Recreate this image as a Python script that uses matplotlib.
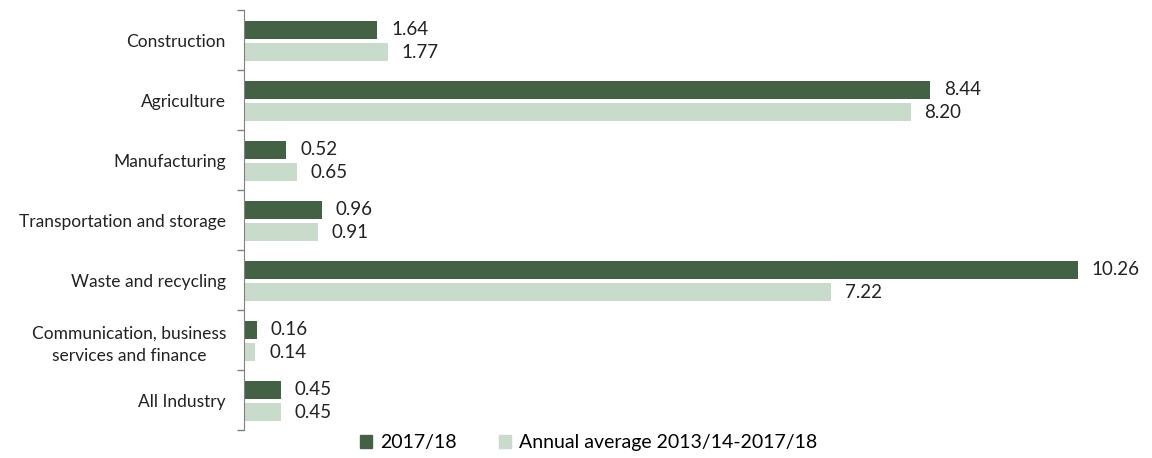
import numpy as np
import matplotlib.pyplot as plt
from matplotlib.patches import Patch

plt.rcParams['font.family'] = ['Lato', 'DejaVu Sans']

categories = ['Construction', 'Agriculture', 'Manufacturing', 'Transportation and storage',
              'Waste and recycling', 'Communication, business\nservices and finance', 'All Industry']
vals_2017 = [1.64, 8.44, 0.52, 0.96, 10.26, 0.16, 0.45]
vals_avg = [1.77, 8.20, 0.65, 0.91, 7.22, 0.14, 0.45]
series_names = ['2017/18', 'Annual average 2013/14-2017/18']

dark = '#436244'
light = '#c9dccc'

fig = plt.figure(figsize=(11.52, 4.58), dpi=100)
ax = fig.add_axes([0.2118, 0.061, 0.7882, 0.917])

y = np.arange(len(categories))
h = 0.3
ax.barh(y - 0.17, vals_2017, height=h, color=dark)
ax.barh(y + 0.20, vals_avg, height=h, color=light)

for yi, v in zip(y - 0.17, vals_2017):
    ax.annotate(f'{v:.2f}', (v, yi), xytext=(10, 0), textcoords='offset points',
                va='center', ha='left', fontsize=13.5, color='#222222')
for yi, v in zip(y + 0.20, vals_avg):
    ax.annotate(f'{v:.2f}', (v, yi), xytext=(10, 0), textcoords='offset points',
                va='center', ha='left', fontsize=13.5, color='#222222')

ax.set_xlim(0, 11.17)
ax.set_ylim(len(categories) - 0.5, -0.5)
ax.set_yticks(y)
ax.set_yticklabels(categories, fontsize=12.5, color='#222222', multialignment='center',
                   linespacing=1.5)
ax.set_yticks(np.arange(-0.5, len(categories)), minor=True)
ax.tick_params(axis='y', which='major', length=0, pad=13)
ax.tick_params(axis='y', which='minor', length=5, color='#808080', width=1)
ax.set_xticks([])

for s in ['top', 'right', 'bottom']:
    ax.spines[s].set_visible(False)
ax.spines['left'].set_color('#808080')

handles = [Patch(color=dark), Patch(color=light)]
fig.legend(handles, series_names, loc='center', bbox_to_anchor=(0.511, 0.033), ncol=2,
           frameon=False, fontsize=14, handlelength=0.6, handleheight=0.6,
           handletextpad=0.4, columnspacing=2.2)

fig.savefig('out.png', dpi=100)
